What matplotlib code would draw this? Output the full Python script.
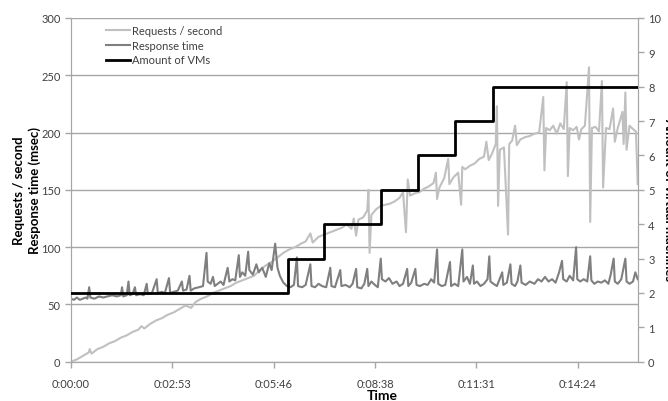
import numpy as np
import matplotlib.pyplot as plt
from matplotlib.lines import Line2D

plt.rcParams['font.family'] = ['Lato', 'DejaVu Sans']

# Requests / second (time in seconds, value)
req_t = [0, 10, 20, 30, 32, 35, 45, 55, 65, 75, 85, 95, 105, 115, 120, 125, 135, 145, 155,
         165, 175, 185, 195, 205, 212, 222, 232, 242, 252, 262, 272, 282, 292, 302, 312,
         322, 332, 342, 352, 362, 372, 382, 392, 400, 408, 412, 422, 432, 442, 452, 462,
         470, 478, 482, 486, 490, 498, 505, 507, 509, 512, 520, 528, 536, 544, 552, 560,
         566, 571, 574, 578, 586, 594, 602, 610, 618, 622, 624, 628, 636, 643, 645, 652,
         660, 665, 667, 672, 680, 688, 696, 704, 708, 712, 718, 724, 726, 728, 731, 738,
         745, 747, 752, 757, 760, 766, 774, 782, 790, 798, 805, 807, 810, 816, 822, 828,
         834, 840, 845, 847, 850, 856, 862, 866, 870, 876, 883, 885, 888, 894, 900, 905,
         907, 912, 918, 924, 927, 932, 940, 942, 945, 947, 952, 958, 963, 966]
req_v = [0, 2, 5, 8, 11, 7, 11, 13, 16, 18, 21, 23, 26, 28, 31, 29, 33, 36, 38,
         41, 43, 46, 49, 47, 52, 55, 57, 60, 62, 64, 66, 69, 71, 73, 75,
         80, 84, 87, 91, 95, 98, 100, 103, 105, 112, 104, 109, 111, 113, 115, 117,
         120, 116, 125, 110, 124, 126, 132, 150, 95, 128, 133, 136, 137, 138, 140, 143,
         148, 113, 159, 145, 147, 148, 151, 153, 156, 165, 142, 152, 160, 177, 155, 161,
         165, 137, 170, 168, 171, 173, 177, 179, 192, 176, 182, 190, 223, 136, 185, 187,
         111, 190, 193, 206, 189, 194, 196, 197, 199, 200, 231, 167, 204, 202, 206, 199,
         208, 203, 244, 162, 204, 202, 205, 194, 203, 206, 257, 122, 204, 205, 201, 245,
         152, 204, 203, 221, 192, 204, 218, 190, 235, 185, 206, 203, 201, 155]

# Response time (msec)
rt_t = [0, 5, 10, 15, 20, 25, 28, 31, 33, 40, 48, 55, 62, 70, 78, 85, 87, 89, 95, 98,
        100, 105, 109, 111, 118, 124, 129, 131, 138, 146, 148, 155, 160, 167, 169, 175,
        182, 189, 191, 197, 202, 204, 210, 218, 225, 231, 233, 238, 242, 245, 250, 255,
        260, 267, 270, 275, 280, 286, 288, 292, 297, 302, 304, 310, 316, 320, 326, 332,
        338, 342, 348, 352, 356, 362, 368, 374, 380, 385, 387, 394, 400, 408, 410, 416,
        422, 428, 435, 442, 444, 450, 459, 461, 468, 475, 480, 486, 488, 495, 500, 505,
        507, 512, 518, 523, 528, 530, 536, 542, 548, 555, 560, 566, 573, 575, 580, 587,
        589, 595, 602, 608, 614, 619, 624, 626, 632, 638, 646, 648, 654, 660, 667, 669,
        675, 680, 685, 687, 692, 698, 704, 710, 713, 715, 720, 726, 735, 737, 743, 749,
        751, 757, 761, 766, 768, 775, 782, 790, 796, 802, 808, 814, 820, 826, 832, 837,
        839, 845, 850, 856, 861, 863, 868, 874, 880, 885, 887, 892, 898, 904, 910, 916,
        920, 925, 927, 932, 938, 945, 947, 952, 958, 962, 966]
rt_v = [55, 54, 56, 54, 55, 56, 55, 65, 56, 55, 57, 56, 57, 58, 57, 58, 65, 57, 58, 70,
        58, 59, 65, 58, 59, 58, 68, 59, 60, 72, 60, 61, 60, 73, 60, 61,
        62, 70, 62, 63, 75, 62, 64, 65, 66, 95, 70, 68, 74, 66, 68, 70,
        67, 82, 70, 72, 71, 93, 74, 78, 75, 96, 80, 76, 85, 78, 82, 74,
        86, 80, 103, 82, 75, 69, 66, 65, 67, 91, 66, 65, 67, 85, 66, 65,
        68, 66, 65, 82, 66, 65, 80, 66, 67, 65, 68, 81, 65, 64, 68, 81,
        66, 70, 67, 65, 90, 72, 70, 73, 68, 70, 66, 68, 81, 66, 69, 81,
        67, 66, 68, 67, 72, 69, 98, 68, 66, 67, 87, 66, 68, 66, 98, 70,
        74, 68, 84, 68, 70, 66, 68, 72, 92, 70, 68, 66, 78, 67, 69, 85,
        68, 66, 70, 84, 69, 67, 70, 68, 72, 70, 74, 70, 72, 69, 78, 88,
        72, 70, 75, 71, 100, 72, 70, 72, 70, 92, 71, 68, 70, 69, 71, 68,
        76, 90, 70, 68, 72, 90, 70, 68, 70, 78, 72]

# Amount of VMs (step changes)
vm_t = [0, 370, 431, 528, 591, 655, 720, 966]
vm_v = [2, 3, 4, 5, 6, 7, 8, 8]

x_ticks = [0, 172.8, 345.6, 518.4, 691.2, 864]
x_labels = ['0:00:00', '0:02:53', '0:05:46', '0:08:38', '0:11:31', '0:14:24']

fig = plt.figure(figsize=(6.68, 4.02), dpi=100)
ax = fig.add_axes([71 / 668, 1 - 362.7 / 402, 566.7 / 668, 343.7 / 402])
ax2 = ax.twinx()

grid_c = '#a6a6a6'
txt_c = '#404040'

ax.plot(req_t, req_v, color='#c0c0c0', lw=1.5, zorder=3)
ax.plot(rt_t, rt_v, color='#7f7f7f', lw=1.5, zorder=4)
ax2.plot(vm_t, vm_v, color='black', lw=2, drawstyle='steps-post', zorder=5)

ax.set_xlim(0, 966)
ax.set_ylim(0, 300)
ax2.set_ylim(0, 10)
ax.set_yticks(range(0, 301, 50))
ax2.set_yticks(range(0, 11))
ax.set_xticks(x_ticks)
ax.set_xticklabels(x_labels)

ax.grid(axis='y', color=grid_c, lw=1)
ax.set_axisbelow(True)
for a in (ax, ax2):
    a.spines['top'].set_visible(False)
    for s in ('left', 'bottom', 'right'):
        a.spines[s].set_color(grid_c)
    a.tick_params(colors=grid_c, labelcolor=txt_c, labelsize=8, length=4, width=1)
ax.tick_params(axis='x', pad=8)

handles = [Line2D([], [], color='#c0c0c0', lw=1.5),
           Line2D([], [], color='#7f7f7f', lw=1.5),
           Line2D([], [], color='black', lw=2)]
leg = ax.legend(handles, ['Requests / second', 'Response time', 'Amount of VMs'],
                loc='upper left', bbox_to_anchor=(0.05, 1.0), frameon=False,
                fontsize=8, handlelength=2.2, handletextpad=0.1, labelspacing=0.35,
                borderaxespad=0.2)
for t in leg.get_texts():
    t.set_color(txt_c)

fig.text(27 / 668, 1 - 191 / 402, 'Requests / second\nResponse time (msec)',
         rotation=90, ha='center', va='center', fontsize=9.5, fontweight='bold',
         multialignment='center', linespacing=1.3)
fig.text(382 / 668, 1 - 396 / 402, 'Time', ha='center', va='center',
         fontsize=10, fontweight='bold')
fig.text(663 / 668, 1 - 200 / 402, 'Amount of virtual machines', rotation=270,
         ha='left', va='center', fontsize=9.5, fontweight='bold')

fig.savefig('out.png', dpi=100)
